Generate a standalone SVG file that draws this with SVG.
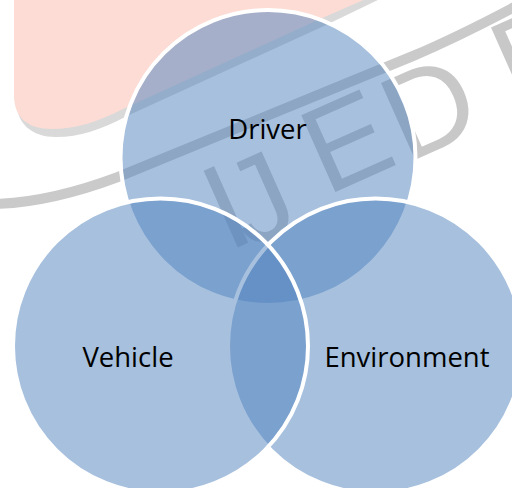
<svg xmlns="http://www.w3.org/2000/svg" width="512" height="488" viewBox="0 0 512 488">
  <style>
    .wm-shadow { fill: #d9d9d9; }
    .wm-pink { fill: #fcdcd4; }
    .wm-swoosh { fill: none; stroke: #cacaca; stroke-width: 10; stroke-linecap: round; }
    .wm-text { font-family: "Liberation Sans", Arial, sans-serif; font-size: 122px; fill: #c8c8c8; }
    .c { fill: #4f81bd; fill-opacity: 0.5; stroke: #ffffff; stroke-width: 4; }
    .lbl { font-family: "Open Sans", "Liberation Sans", sans-serif; font-size: 27.5px; fill: #000000; text-anchor: middle; }
  </style>
  <rect x="0" y="0" width="512" height="488" fill="#ffffff"/>
  <g id="watermark">
    <path class="wm-shadow" d="M16,-2 L16,99 C16,124 32,137 56,137 C80,137 100,130 127,116 L324,26 L382,-2 Z"/>
    <path class="wm-pink" d="M14,-2 L14,95 C14,118 28,129 52,129 C75,129 95,123 123,109 L320,19 L368,-2 Z"/>
    <path class="wm-swoosh" d="M-5,204 C30,203 70,195 118,177 L413,56 Q460,36 520,4"/>
    <text class="wm-text" transform="translate(243,245) rotate(-24)"><tspan x="-17" y="0">I</tspan><tspan x="3" y="6">J</tspan><tspan x="96" y="-11">E</tspan><tspan x="182" y="-8">D</tspan><tspan x="305" y="-14">R</tspan></text>
  </g>
  <g id="node-driver">
    <circle class="c" cx="268" cy="157.5" r="147.5"/>
  </g>
  <g id="node-environment">
    <circle class="c" cx="375.5" cy="346" r="147.5"/>
  </g>
  <g id="node-vehicle">
    <circle class="c" cx="160.5" cy="346" r="147.5"/>
  </g>
  <g id="connectors"></g>
  <g id="labels">
    <text class="lbl" x="267.5" y="138.5">Driver</text>
    <text class="lbl" x="128" y="367">Vehicle</text>
    <text class="lbl" x="407" y="367">Environment</text>
  </g>
</svg>
